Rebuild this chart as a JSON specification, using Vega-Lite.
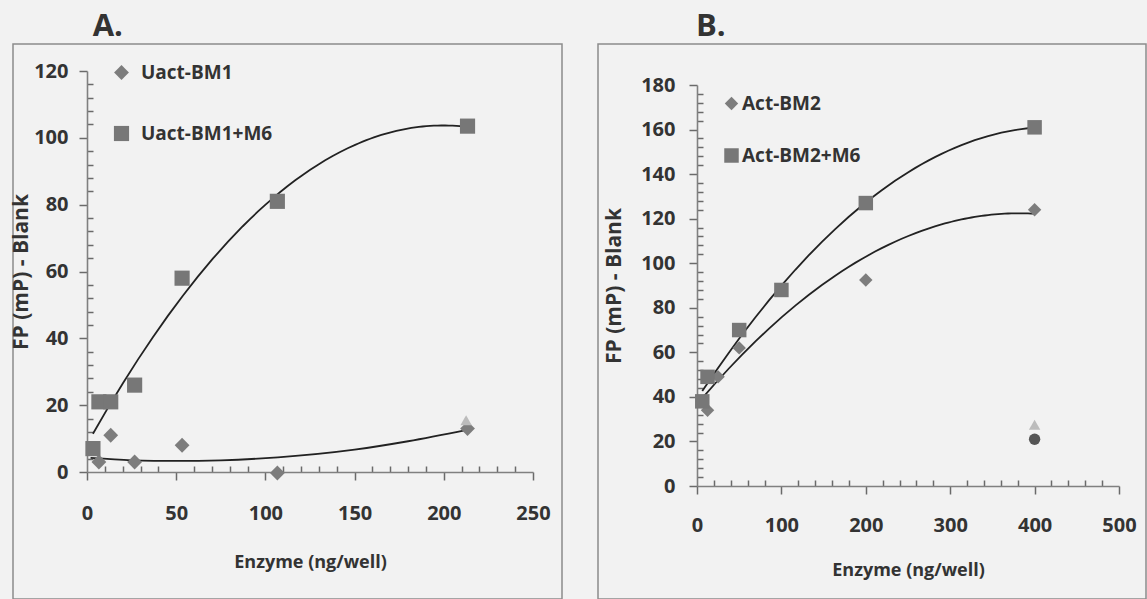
{
  "$schema": "https://vega.github.io/schema/vega-lite/v6.json",
  "background": "#f2f2f2",
  "padding": {"left": 9, "top": 10, "right": 0, "bottom": 0},
  "spacing": 34,
  "config": {
    "font": "Open Sans",
    "view": {"stroke": "#8c8c8c", "strokeWidth": 1.5},
    "axis": {
      "grid": false,
      "domainColor": "#808080",
      "domainWidth": 1.6,
      "tickColor": "#6a6a6a",
      "tickWidth": 1.5,
      "labelFont": "Open Sans",
      "labelFontSize": 20,
      "labelFontWeight": "bold",
      "labelColor": "#333333",
      "titleFont": "Open Sans",
      "titleFontSize": 18,
      "titleFontWeight": "bold",
      "titleColor": "#333333",
      "labelOverlap": false,
      "labelFlush": false
    },
    "legend": {
      "labelFont": "Open Sans",
      "labelFontSize": 19,
      "labelFontWeight": "bold",
      "labelColor": "#333333",
      "symbolSize": 210,
      "symbolStrokeWidth": 0,
      "padding": 0
    },
    "title": {"font": "Open Sans", "fontSize": 31, "fontWeight": "bold", "color": "#333333", "anchor": "start"}
  },
  "datasets": {
    "a": [
      {"series": "Uact-BM1", "enzyme": 6.67, "fp": 3},
      {"series": "Uact-BM1", "enzyme": 13.3, "fp": 11},
      {"series": "Uact-BM1", "enzyme": 26.7, "fp": 3},
      {"series": "Uact-BM1", "enzyme": 53.3, "fp": 8},
      {"series": "Uact-BM1", "enzyme": 106.7, "fp": -0.3},
      {"series": "Uact-BM1", "enzyme": 213.3, "fp": 13},
      {"series": "Uact-BM1+M6", "enzyme": 3.33, "fp": 7},
      {"series": "Uact-BM1+M6", "enzyme": 6.67, "fp": 21},
      {"series": "Uact-BM1+M6", "enzyme": 13.3, "fp": 21},
      {"series": "Uact-BM1+M6", "enzyme": 26.7, "fp": 26},
      {"series": "Uact-BM1+M6", "enzyme": 53.3, "fp": 58},
      {"series": "Uact-BM1+M6", "enzyme": 106.7, "fp": 81},
      {"series": "Uact-BM1+M6", "enzyme": 213.3, "fp": 103.5},
      {"series": "triangle", "enzyme": 212.5, "fp": 15.5}
    ],
    "aTrend": [
      {"enzyme": 2, "fp": 4.2},
      {"enzyme": 25, "fp": 3.5},
      {"enzyme": 50, "fp": 3.3},
      {"enzyme": 75, "fp": 3.5},
      {"enzyme": 107, "fp": 4.4},
      {"enzyme": 150, "fp": 6.7},
      {"enzyme": 180, "fp": 9.2},
      {"enzyme": 213, "fp": 12.6}
    ],
    "b": [
      {"series": "Act-BM2", "enzyme": 6.25, "fp": 38},
      {"series": "Act-BM2", "enzyme": 12.5, "fp": 34},
      {"series": "Act-BM2", "enzyme": 25, "fp": 49},
      {"series": "Act-BM2", "enzyme": 50, "fp": 62},
      {"series": "Act-BM2", "enzyme": 100, "fp": 88},
      {"series": "Act-BM2", "enzyme": 200, "fp": 92.5},
      {"series": "Act-BM2", "enzyme": 400, "fp": 124},
      {"series": "Act-BM2+M6", "enzyme": 6.25, "fp": 38},
      {"series": "Act-BM2+M6", "enzyme": 12.5, "fp": 49},
      {"series": "Act-BM2+M6", "enzyme": 50, "fp": 70},
      {"series": "Act-BM2+M6", "enzyme": 100, "fp": 88},
      {"series": "Act-BM2+M6", "enzyme": 200, "fp": 127},
      {"series": "Act-BM2+M6", "enzyme": 400, "fp": 161},
      {"series": "triangle", "enzyme": 400, "fp": 27.5},
      {"series": "circle", "enzyme": 400, "fp": 21}
    ]
  },
  "resolve": {"scale": {"x": "independent", "y": "independent", "color": "independent", "shape": "independent", "size": "independent"}, "legend": {"color": "independent", "shape": "independent"}},
  "hconcat": [
    {
      "width": 549,
      "height": 555,
      "title": {"text": "A.", "dx": 82, "offset": 1},
      "data": {"name": "a"},
      "encoding": {
        "x": {"field": "enzyme", "type": "quantitative",
          "scale": {"domain": [0, 250], "range": [74, 520], "nice": false, "zero": false},
          "axis": {"orient": "bottom", "offset": -127, "values": [0,10,20,30,40,50,60,70,80,90,100,110,120,130,140,150,160,170,180,190,200,210,220,230,240,250],
            "labelExpr": "datum.value % 50 === 0 ? datum.label : ''",
            "tickSize": {"condition": {"test": "datum.value % 50 === 0", "value": 8}, "value": -6},
            "labelPadding": 23, "title": "Enzyme (ng/well)", "titlePadding": 30}},
        "y": {"field": "fp", "type": "quantitative",
          "scale": {"domain": [0, 120], "range": [428, 27], "nice": false, "zero": false},
          "axis": {"orient": "left", "offset": -74, "values": [0,4,8,12,16,20,24,28,32,36,40,44,48,52,56,60,64,68,72,76,80,84,88,92,96,100,104,108,112,116,120],
            "labelExpr": "datum.value % 20 === 0 ? datum.label : ''",
            "tickSize": {"condition": {"test": "datum.value % 20 === 0", "value": 8}, "value": -6},
            "labelPadding": 11, "title": "FP (mP) - Blank", "titleFontSize": 21, "titlePadding": 2}}
      },
      "layer": [
        {
          "transform": [
            {"filter": "datum.series === 'Uact-BM1+M6'"},
            {"regression": "fp", "on": "enzyme", "method": "poly", "order": 2}
          ],
          "mark": {"type": "line", "color": "#222222", "strokeWidth": 1.8},
          "encoding": {}
        },
        {
          "data": {"name": "aTrend"},
          "mark": {"type": "line", "color": "#222222", "strokeWidth": 1.8, "interpolate": "monotone"},
          "encoding": {}
        },
        {
          "transform": [{"filter": "datum.series === 'Uact-BM1' || datum.series === 'Uact-BM1+M6'"}],
          "mark": {"type": "point", "filled": true, "opacity": 1},
          "encoding": {
            "shape": {"field": "series", "type": "nominal", "scale": {"domain": ["Uact-BM1", "Uact-BM1+M6"], "range": ["diamond", "square"]},
              "legend": {"title": null, "orient": "none", "legendX": 99, "legendY": 19, "rowPadding": 41, "labelOffset": 10}},
            "color": {"field": "series", "type": "nominal", "scale": {"domain": ["Uact-BM1", "Uact-BM1+M6"], "range": ["#7d7d7d", "#777777"]},
              "legend": {"title": null, "orient": "none", "legendX": 99, "legendY": 19, "rowPadding": 41, "labelOffset": 10}},
            "size": {"field": "series", "type": "nominal", "scale": {"domain": ["Uact-BM1", "Uact-BM1+M6"], "range": [220, 230]}, "legend": null}
          }
        },
        {
          "transform": [{"filter": "datum.series === 'triangle'"}],
          "mark": {"type": "point", "shape": "triangle-up", "filled": true, "color": "#bcbcbc", "size": 130, "opacity": 1}
        }
      ]
    },
    {
      "width": 548,
      "height": 555,
      "title": {"text": "B.", "dx": 98, "offset": 1},
      "data": {"name": "b"},
      "encoding": {
        "x": {"field": "enzyme", "type": "quantitative",
          "scale": {"domain": [0, 500], "range": [99, 521], "nice": false, "zero": false},
          "axis": {"orient": "bottom", "offset": -113, "values": [0,20,40,60,80,100,120,140,160,180,200,220,240,260,280,300,320,340,360,380,400,420,440,460,480,500],
            "labelExpr": "datum.value % 100 === 0 ? datum.label : ''",
            "tickSize": {"condition": {"test": "datum.value % 100 === 0", "value": 8}, "value": -6},
            "labelPadding": 21, "title": "Enzyme (ng/well)", "titlePadding": 26}},
        "y": {"field": "fp", "type": "quantitative",
          "scale": {"domain": [0, 180], "range": [442, 41], "nice": false, "zero": false},
          "axis": {"orient": "left", "offset": -99, "values": [0,4,8,12,16,20,24,28,32,36,40,44,48,52,56,60,64,68,72,76,80,84,88,92,96,100,104,108,112,116,120,124,128,132,136,140,144,148,152,156,160,164,168,172,176,180],
            "labelExpr": "datum.value % 20 === 0 ? datum.label : ''",
            "tickSize": {"condition": {"test": "datum.value % 20 === 0", "value": 8}, "value": -6},
            "labelPadding": 14, "title": "FP (mP) - Blank", "titleFontSize": 21, "titlePadding": 16}}
      },
      "layer": [
        {
          "transform": [
            {"filter": "datum.series === 'Act-BM2' || datum.series === 'Act-BM2+M6'"},
            {"regression": "fp", "on": "enzyme", "method": "poly", "order": 2, "groupby": ["series"]}
          ],
          "mark": {"type": "line", "color": "#222222", "strokeWidth": 1.8},
          "encoding": {"detail": {"field": "series"}}
        },
        {
          "transform": [{"filter": "datum.series === 'Act-BM2' || datum.series === 'Act-BM2+M6'"}],
          "mark": {"type": "point", "filled": true, "opacity": 1},
          "encoding": {
            "shape": {"field": "series", "type": "nominal", "scale": {"domain": ["Act-BM2", "Act-BM2+M6"], "range": ["diamond", "square"]},
              "legend": {"title": null, "orient": "none", "legendX": 124, "legendY": 50, "rowPadding": 32, "labelOffset": 1}},
            "color": {"field": "series", "type": "nominal", "scale": {"domain": ["Act-BM2", "Act-BM2+M6"], "range": ["#7d7d7d", "#777777"]},
              "legend": {"title": null, "orient": "none", "legendX": 124, "legendY": 50, "rowPadding": 32, "labelOffset": 1}},
            "size": {"field": "series", "type": "nominal", "scale": {"domain": ["Act-BM2", "Act-BM2+M6"], "range": [180, 210]}, "legend": null}
          }
        },
        {
          "transform": [{"filter": "datum.series === 'triangle'"}],
          "mark": {"type": "point", "shape": "triangle-up", "filled": true, "color": "#bcbcbc", "size": 130, "opacity": 1}
        },
        {
          "transform": [{"filter": "datum.series === 'circle'"}],
          "mark": {"type": "point", "shape": "circle", "filled": true, "color": "#555555", "size": 130, "opacity": 1}
        }
      ]
    }
  ]
}
